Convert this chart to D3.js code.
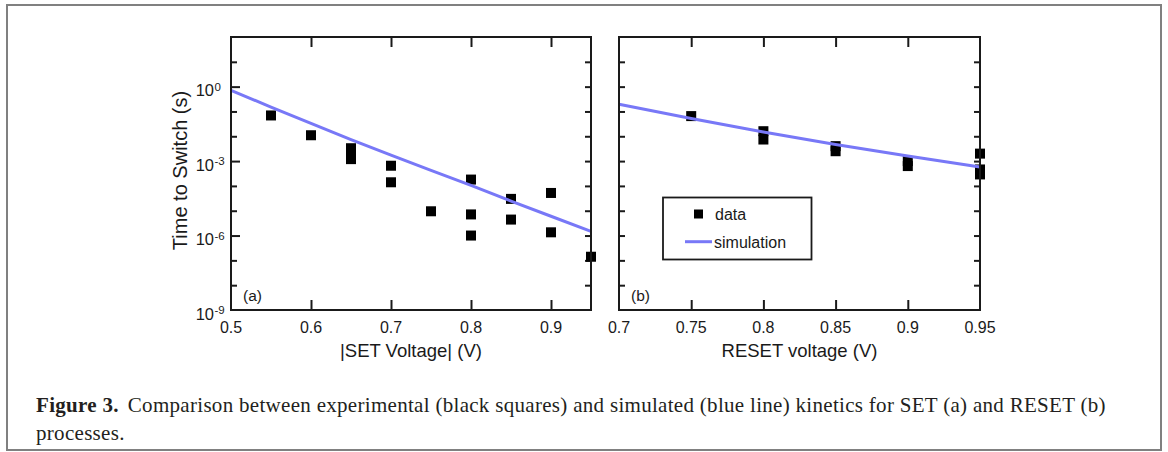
<!DOCTYPE html>
<html>
<head>
<meta charset="utf-8">
<script src="https://cdn.jsdelivr.net/npm/d3@7/dist/d3.min.js"></script>
<style>
  html, body { margin: 0; padding: 0; background: #fff; }
  svg { display: block; }
</style>
</head>
<body>
<svg id="chart" width="1168" height="452"></svg>
<script>
// ---------- data ----------
const setVoltage = [0.55, 0.6, 0.65, 0.65, 0.65, 0.7, 0.7, 0.75, 0.8, 0.8, 0.8, 0.85, 0.85, 0.9, 0.9, 0.95];
const setTime    = [6.9e-2, 1.1e-2, 3.3e-3, 2.0e-3, 1.2e-3, 6.5e-4, 1.4e-4, 9.5e-6, 1.8e-4, 7.1e-6, 1.0e-6, 3.0e-5, 4.4e-6, 5.2e-5, 1.35e-6, 1.4e-7];
const setSimVoltage = [0.5, 0.55, 0.6, 0.65, 0.7, 0.75, 0.8, 0.85, 0.9, 0.95];
const setSimTime    = [0.71, 0.151, 0.033, 7.4e-3, 1.74e-3, 4.2e-4, 1.05e-4, 2.45e-5, 6.0e-6, 1.48e-6];

const resetVoltage = [0.75, 0.8, 0.8, 0.85, 0.85, 0.9, 0.9, 0.95, 0.95, 0.95];
const resetTime    = [6.5e-2, 1.6e-2, 7.4e-3, 4.0e-3, 2.5e-3, 1.0e-3, 6.3e-4, 2.0e-3, 4.6e-4, 2.9e-4];
const resetSimVoltage = [0.7, 0.75, 0.8, 0.85, 0.9, 0.95];
const resetSimTime    = [0.195, 0.052, 0.015, 4.7e-3, 1.6e-3, 5.75e-4];

const setXTicks = [0.5, 0.6, 0.7, 0.8, 0.9];
const resetXTicks = [0.7, 0.75, 0.8, 0.85, 0.9, 0.95];
const yDecades = [1e2, 1e1, 1e0, 1e-1, 1e-2, 1e-3, 1e-4, 1e-5, 1e-6, 1e-7, 1e-8, 1e-9];
const yLabelExponents = [0, -3, -6, -9];

const xTitleA = "|SET Voltage| (V)";
const xTitleB = "RESET voltage (V)";
const yTitle = "Time to Switch (s)";
const legendLabels = ["data", "simulation"];
const captionBold = "Figure 3.";
const captionLine1 = "Comparison between experimental (black squares) and simulated (blue line) kinetics for SET (a) and RESET (b)";
const captionLine2 = "processes.";

// ---------- layout ----------
const svg = d3.select("#chart");
const SANS = "'Liberation Sans', Arial, Helvetica, sans-serif";
const SERIF = "'Liberation Serif', 'Times New Roman', serif";
const BLUE = "#7878f7";
const INK = "#1a1a1a";

const plotTop = 37, plotBottom = 310;
const y = d3.scaleLog().domain([1e-9, 1e2]).range([plotBottom, plotTop]);

// outer figure border
svg.append("rect").attr("x", 7).attr("y", 5).attr("width", 1154).attr("height", 445)
  .attr("fill", "none").attr("stroke", "#808080").attr("stroke-width", 2);

function panel(opts) {
  const x = d3.scaleLinear().domain(opts.domain).range([opts.left, opts.right]);
  const g = svg.append("g");

  const innerX = opts.xTicks.filter(v => v > opts.domain[0] + 1e-9 && v < opts.domain[1] - 1e-9);
  g.append("g").attr("transform", `translate(0,${plotBottom})`)
    .call(d3.axisTop(x).tickValues(innerX).tickSize(10).tickFormat(""))
    .call(a => a.select(".domain").remove())
    .call(a => a.selectAll("line").attr("stroke", INK).attr("stroke-width", 2));
  g.append("g").attr("transform", `translate(0,${plotTop})`)
    .call(d3.axisBottom(x).tickValues(innerX).tickSize(10).tickFormat(""))
    .call(a => a.select(".domain").remove())
    .call(a => a.selectAll("line").attr("stroke", INK).attr("stroke-width", 2));

  const innerY = yDecades.filter(v => v < 1e2 && v > 1e-9);
  g.append("g").attr("transform", `translate(${opts.left},0)`)
    .call(d3.axisRight(y).tickValues(innerY).tickSize(6).tickFormat(""))
    .call(a => a.select(".domain").remove())
    .call(a => a.selectAll("line").attr("stroke", INK).attr("stroke-width", 2)
      .attr("x2", d => (opts.labels && yLabelExponents.includes(Math.round(Math.log10(d)))) ? 9 : 6));
  g.append("g").attr("transform", `translate(${opts.right},0)`)
    .call(d3.axisLeft(y).tickValues(innerY).tickSize(6).tickFormat(""))
    .call(a => a.select(".domain").remove())
    .call(a => a.selectAll("line").attr("stroke", INK).attr("stroke-width", 2));

  g.append("g").selectAll("text").data(opts.xTicks).join("text")
    .attr("x", d => x(d)).attr("y", 333)
    .attr("text-anchor", "middle")
    .attr("font-family", SANS).attr("font-size", 16).attr("fill", INK)
    .text(d => d3.format("")(d));

  if (opts.labels) {
    const lg = g.append("g");
    yLabelExponents.forEach(e => {
      const yy = y(Math.pow(10, e));
      lg.append("text").attr("x", opts.left - 17).attr("y", yy + 9.5)
        .attr("text-anchor", "end").attr("font-family", SANS).attr("font-size", 16.5).attr("fill", INK)
        .text("10");
      lg.append("text").attr("x", opts.left - 16.5).attr("y", yy + 4)
        .attr("text-anchor", "start").attr("font-family", SANS).attr("font-size", 11.5).attr("fill", INK)
        .text(e === 0 ? "0" : "-" + Math.abs(e));
    });
    g.append("text")
      .attr("transform", `translate(${180},${170.5}) rotate(-90)`)
      .attr("text-anchor", "middle").attr("dy", "0.35em")
      .attr("font-family", SANS).attr("font-size", 20).attr("fill", INK)
      .text(yTitle);
  }

  g.append("text").attr("x", (opts.left + opts.right) / 2).attr("y", 357)
    .attr("text-anchor", "middle").attr("font-family", SANS).attr("font-size", 18.5).attr("fill", INK)
    .text(opts.title);

  g.append("text").attr("x", opts.left + 12).attr("y", 301)
    .attr("font-family", SANS).attr("font-size", 15.5).attr("fill", INK)
    .text(opts.tag);

  const s = 10;
  g.append("g").selectAll("rect").data(opts.vx.map((v, i) => [v, opts.vy[i]])).join("rect")
    .attr("x", d => x(d[0]) - s / 2).attr("y", d => y(d[1]) - s / 2)
    .attr("width", s).attr("height", s).attr("fill", "#000");

  const line = d3.line().x(d => x(d[0])).y(d => y(d[1]));
  g.append("path").datum(opts.sx.map((v, i) => [v, opts.sy[i]]))
    .attr("d", line).attr("fill", "none").attr("stroke", BLUE).attr("stroke-width", 3);

  g.append("rect").attr("x", opts.left).attr("y", plotTop)
    .attr("width", opts.right - opts.left).attr("height", plotBottom - plotTop)
    .attr("fill", "none").attr("stroke", INK).attr("stroke-width", 2);

  return { g, x };
}

panel({ left: 231, right: 591, domain: [0.5, 0.95], xTicks: setXTicks, labels: true,
  title: xTitleA, tag: "(a)", vx: setVoltage, vy: setTime, sx: setSimVoltage, sy: setSimTime });
panel({ left: 619, right: 980, domain: [0.7, 0.95], xTicks: resetXTicks, labels: false,
  title: xTitleB, tag: "(b)", vx: resetVoltage, vy: resetTime, sx: resetSimVoltage, sy: resetSimTime });

// legend
const leg = svg.append("g");
leg.append("rect").attr("x", 663).attr("y", 197.5).attr("width", 148.5).attr("height", 62)
  .attr("fill", "#fff").attr("stroke", INK).attr("stroke-width", 1.8);
leg.append("rect").attr("x", 694).attr("y", 209.5).attr("width", 9).attr("height", 9).attr("fill", "#000");
leg.append("text").attr("x", 715).attr("y", 220).attr("font-family", SANS).attr("font-size", 16).attr("fill", INK)
  .text(legendLabels[0]);
leg.append("line").attr("x1", 685).attr("x2", 712).attr("y1", 241.7).attr("y2", 241.7)
  .attr("stroke", BLUE).attr("stroke-width", 3);
leg.append("text").attr("x", 714).attr("y", 247.5).attr("font-family", SANS).attr("font-size", 16).attr("fill", INK)
  .text(legendLabels[1]);

// caption
const cap = svg.append("text").attr("x", 36).attr("y", 412)
  .attr("font-family", SERIF).attr("font-size", 21).attr("fill", "#231f20")
  .attr("letter-spacing", 0.3);
cap.append("tspan").attr("font-weight", "bold").text(captionBold);
cap.append("tspan").attr("dx", 9).text(captionLine1);
svg.append("text").attr("x", 36).attr("y", 440)
  .attr("font-family", SERIF).attr("font-size", 21).attr("fill", "#231f20")
  .attr("letter-spacing", 0.3)
  .text(captionLine2);
</script>
</body>
</html>
